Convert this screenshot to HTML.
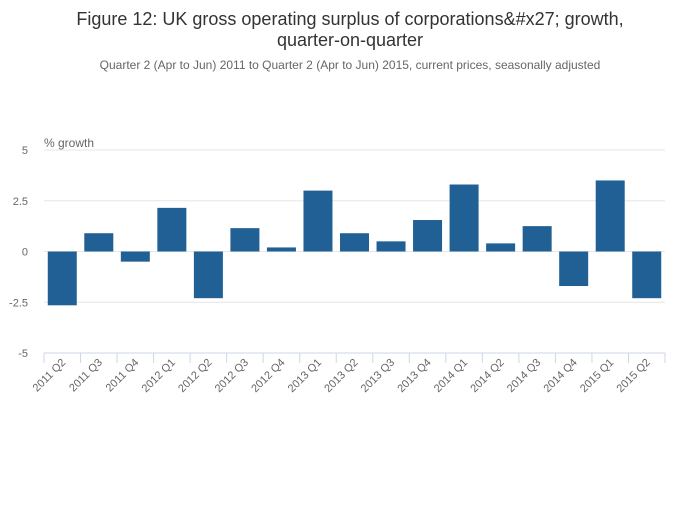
<!DOCTYPE html>
<html><head><meta charset="utf-8"><style>
body{margin:0;background:#fff;font-family:"Liberation Sans",sans-serif;}
</style></head><body>
<svg width="700" height="502" xmlns="http://www.w3.org/2000/svg">
<text x="350" y="25" text-anchor="middle" font-size="18" fill="#333">Figure 12: UK gross operating surplus of corporations&amp;#x27; growth,</text>
<text x="350" y="46" text-anchor="middle" font-size="18" fill="#333">quarter-on-quarter</text>
<text x="350" y="69" text-anchor="middle" font-size="12" fill="#666">Quarter 2 (Apr to Jun) 2011 to Quarter 2 (Apr to Jun) 2015, current prices, seasonally adjusted</text>
<text x="44" y="147" font-size="12" fill="#666">% growth</text>
<g id="grid"></g><g id="bars"></g><g id="xt"></g>
</svg>
<script>
const categories=["2011 Q2","2011 Q3","2011 Q4","2012 Q1","2012 Q2","2012 Q3","2012 Q4","2013 Q1","2013 Q2","2013 Q3","2013 Q4","2014 Q1","2014 Q2","2014 Q3","2014 Q4","2015 Q1","2015 Q2"];
const values=[-2.65,0.9,-0.5,2.15,-2.3,1.15,0.2,3.0,0.9,0.5,1.55,3.3,0.4,1.25,-1.7,3.5,-2.3];
const yTicks=[5,2.5,0,-2.5,-5];
const yTickLabels=["5","2.5","0","-2.5","-5"];
const NS="http://www.w3.org/2000/svg";
const x0=44,x1=665,yTop=150,yBot=353;
const band=(x1-x0)/categories.length;
const y=v=>yTop+(5-v)*(yBot-yTop)/10;
function mk(t,a){const e=document.createElementNS(NS,t);for(const k in a)e.setAttribute(k,a[k]);return e;}
const g=document.getElementById('grid');
yTicks.forEach((t,i)=>{
 const l=mk('line',{x1:x0,x2:x1,y1:y(t),y2:y(t),stroke:t===-5?'#ccd6eb':'#e6e6e6','stroke-width':1});
 
 
 g.appendChild(l);
 const tx=mk('text',{x:28,y:y(t)+4,'text-anchor':'end','font-size':11,fill:'#666'});
 tx.textContent=yTickLabels[i];
 
 
 g.appendChild(tx);
});
const b=document.getElementById('bars'),xt=document.getElementById('xt');
categories.forEach((c,i)=>{
 const cx=x0+band*(i+0.5),v=values[i];
 const r=mk('rect',{x:cx-14.5,width:29,y:Math.min(y(v),y(0)),height:Math.abs(y(v)-y(0)),fill:'#206095'});
 
 
 b.appendChild(r);
 const tk=mk('line',{x1:x0+band*i,x2:x0+band*i,y1:yBot,y2:yBot+10,stroke:'#ccd6eb'});
 
 
 xt.appendChild(tk);
 const t=mk('text',{x:cx+4,y:yBot+10,'text-anchor':'end','font-size':11,fill:'#666',transform:`rotate(-45 ${cx+4} ${yBot+10})`});
 t.textContent=c;
 
 
 xt.appendChild(t);
});
const tk=mk('line',{x1:x1,x2:x1,y1:yBot,y2:yBot+10,stroke:'#ccd6eb'});


xt.appendChild(tk);
</script>
</body></html>
